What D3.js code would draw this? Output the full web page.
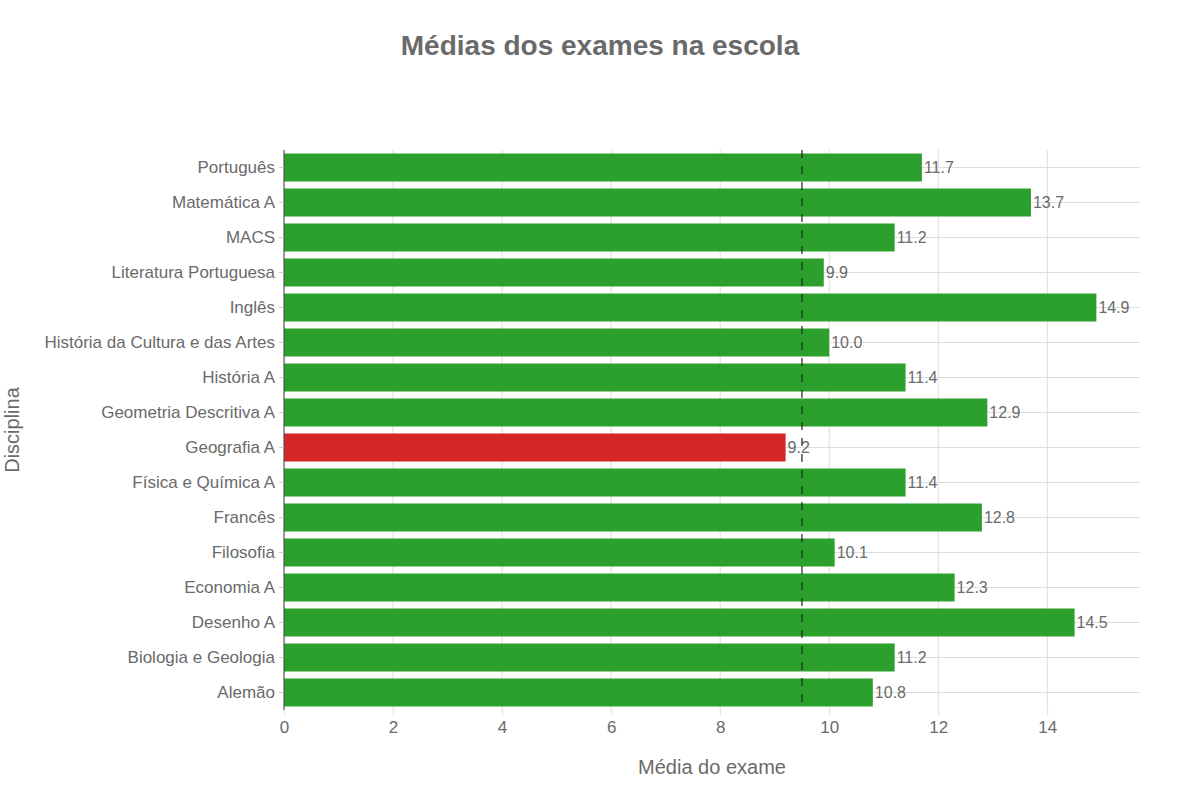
<!DOCTYPE html>
<html>
<head>
<meta charset="utf-8">
<script src="https://cdn.jsdelivr.net/npm/d3@7"></script>
<style>
    body { margin: 0; background: #fff; }
    text { font-family: "Liberation Sans", Arial, sans-serif; }
</style>
</head>
<body>
<div id="chart"></div>
<script>
// Data
const disciplinas = ["Português", "Matemática A", "MACS", "Literatura Portuguesa", "Inglês",
    "História da Cultura e das Artes", "História A", "Geometria Descritiva A", "Geografia A",
    "Física e Química A", "Francês", "Filosofia", "Economia A", "Desenho A",
    "Biologia e Geologia", "Alemão"];
const medias = [11.7, 13.7, 11.2, 9.9, 14.9, 10.0, 11.4, 12.9, 9.2, 11.4, 12.8, 10.1, 12.3, 14.5, 11.2, 10.8];
const limiar = 9.5;
const xTicks = [0, 2, 4, 6, 8, 10, 12, 14];

const W = 1200, H = 800;
const margin = { top: 150, right: 60, bottom: 90, left: 284 };
const width = W - margin.left - margin.right;
const height = H - margin.top - margin.bottom;
const textColor = "#6a6a6a";

const svg = d3.select("#chart").append("svg")
    .attr("width", W)
    .attr("height", H);

const g = svg.append("g")
    .attr("transform", `translate(${margin.left},${margin.top})`);

// Scales
const x = d3.scaleLinear().domain([0, 15.7]).range([0, width]);
const y = d3.scaleBand().domain(disciplinas).range([0, height]).paddingInner(0.2).paddingOuter(0.1);

// Gridlines
g.selectAll(".vgrid").data(xTicks).enter().append("line")
    .attr("x1", d => x(d)).attr("x2", d => x(d))
    .attr("y1", 0).attr("y2", height)
    .attr("stroke", "#ddd").attr("stroke-width", 1);

g.selectAll(".hgrid").data(disciplinas).enter().append("line")
    .attr("x1", 0).attr("x2", width)
    .attr("y1", d => y(d) + y.bandwidth() / 2).attr("y2", d => y(d) + y.bandwidth() / 2)
    .attr("stroke", "#ddd").attr("stroke-width", 1);

// Bars
g.selectAll(".bar").data(disciplinas).enter().append("rect")
    .attr("x", 0)
    .attr("y", d => y(d))
    .attr("width", (d, i) => x(medias[i]))
    .attr("height", y.bandwidth())
    .attr("fill", (d, i) => medias[i] < limiar ? "#d62728" : "#2ca02c");

// Value labels
g.selectAll(".lbl").data(disciplinas).enter().append("text")
    .attr("x", (d, i) => x(medias[i]) + 2)
    .attr("y", d => y(d) + y.bandwidth() / 2)
    .attr("dy", "0.35em")
    .attr("fill", textColor)
    .style("font-size", "16px")
    .text((d, i) => medias[i].toFixed(1));

// Threshold line
g.append("line")
    .attr("x1", x(limiar)).attr("x2", x(limiar))
    .attr("y1", 0).attr("y2", height)
    .attr("stroke", "#222").attr("stroke-width", 1.2)
    .attr("stroke-dasharray", "8,8");

// Axes
const xAxis = g.append("g")
    .attr("transform", `translate(0,${height})`)
    .call(d3.axisBottom(x).tickValues(xTicks).tickSize(5).tickPadding(6));
xAxis.select(".domain").remove();
xAxis.selectAll("line").attr("stroke", "#ddd");
xAxis.selectAll("text").attr("fill", textColor).style("font-size", "17px");

const yAxis = g.append("g")
    .call(d3.axisLeft(y).tickSize(5).tickPadding(4));
yAxis.select(".domain").attr("stroke", "#444").attr("d", `M0,0V${height}`);
yAxis.selectAll("line").attr("stroke", "#ccc");
yAxis.selectAll("text").attr("fill", textColor).style("font-size", "17px");

// Titles
svg.append("text")
    .attr("x", W / 2).attr("y", 55)
    .attr("text-anchor", "middle")
    .attr("fill", textColor)
    .style("font-size", "28px")
    .style("font-weight", "bold")
    .text("Médias dos exames na escola");

svg.append("text")
    .attr("x", margin.left + width / 2).attr("y", 774)
    .attr("text-anchor", "middle")
    .attr("fill", textColor)
    .style("font-size", "20px")
    .text("Média do exame");

svg.append("text")
    .attr("transform", `translate(19,${margin.top + height / 2}) rotate(-90)`)
    .attr("text-anchor", "middle")
    .attr("fill", textColor)
    .style("font-size", "20px")
    .text("Disciplina");
</script>
</body>
</html>
